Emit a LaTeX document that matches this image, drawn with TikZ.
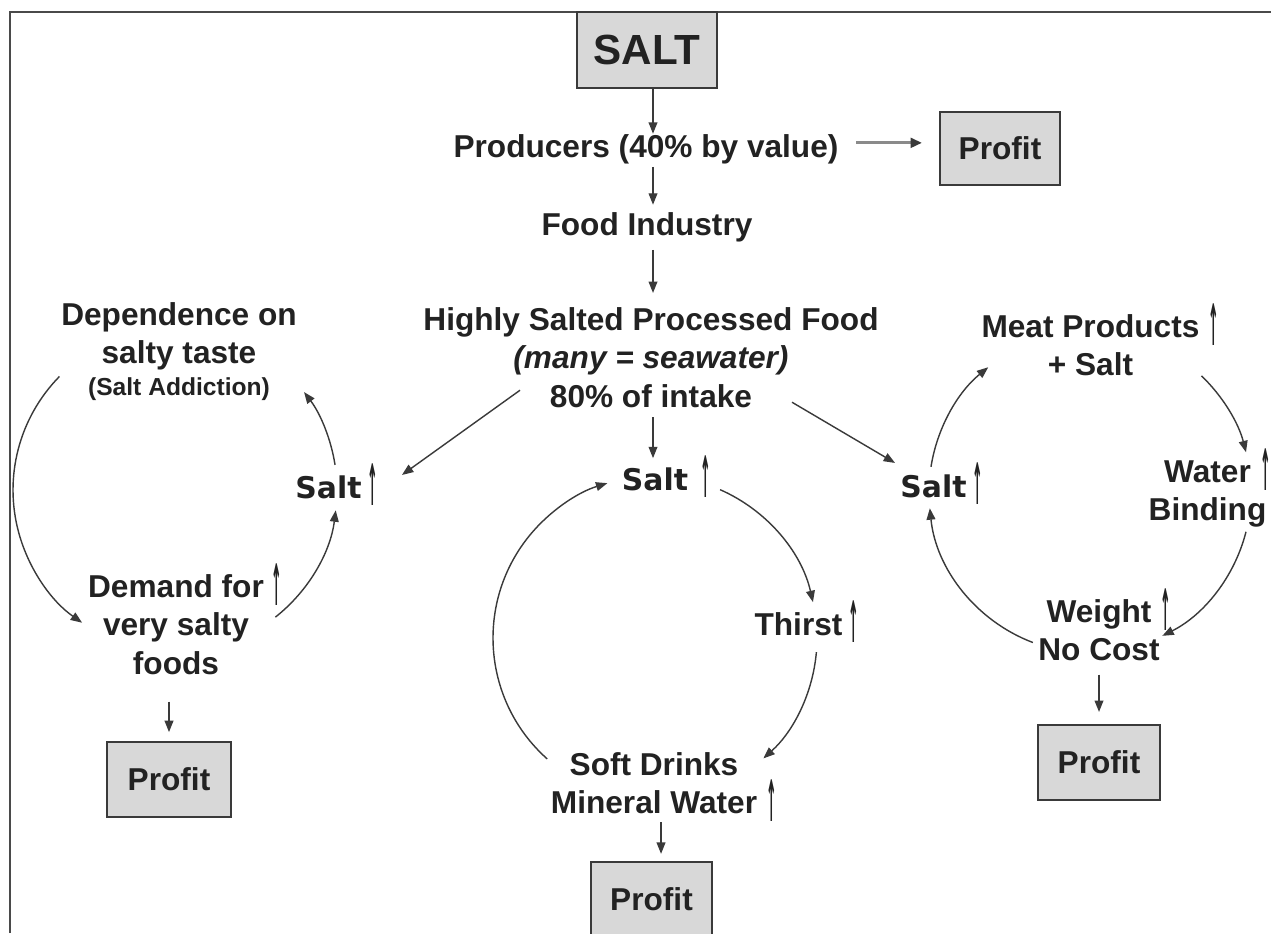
\documentclass[tikz,border=0pt]{standalone}
\usepackage{graphicx}
\usepackage{fontspec}
\setmainfont{Liberation Sans}
\newfontfamily\saltfont{DejaVu Sans}
\usetikzlibrary{arrows.meta,calc}
\definecolor{ink}{HTML}{222222}
\definecolor{linec}{HTML}{3A3A3A}
\definecolor{boxfill}{HTML}{D8D8D8}
\definecolor{framec}{HTML}{4A4A4A}
\definecolor{lightarr}{HTML}{8A8A8A}
\newcommand\upar[1][4pt]{\rlap{\kern#1\raisebox{-4.5pt}[0pt][0pt]{\resizebox*{6pt}{23.8pt}{\saltfont\bfseries\raisebox{\depth}{↑}}}}}
\begin{document}
\begin{tikzpicture}[x=0.02cm,y=0.02cm,
  txt/.style={font=\fontsize{18}{22}\selectfont\bfseries, text=ink, inner sep=0pt, align=center},
  saltlab/.style={font=\saltfont\fontsize{17}{20}\selectfont\bfseries, text=ink, inner sep=0pt},
  pbox/.style={draw=linec, line width=1.3pt, fill=boxfill, inner sep=0pt, text=ink,
     font=\fontsize{18}{22}\selectfont\bfseries},
  arr/.style={draw=linec, line width=0.8pt, -{Triangle[length=6.5pt,width=5pt]}},
  grayarr/.style={draw=lightarr, line width=1.6pt, -{Triangle[length=6.5pt,width=5.5pt,color=linec]}}
]
\fill[white] (0,0) rectangle (1271,-933);
\useasboundingbox (0,0) rectangle (1271,-933);
% frame
\draw[framec, line width=1.7pt] (10,-933) -- (10,-12) -- (1271,-12);

% top chain
\coordinate (spine) at (653,0);
\node[pbox, minimum width=2.8cm, minimum height=1.52cm, font=\fontsize{24}{28}\selectfont\bfseries] (salt) at (647,-50) {SALT};
\node[txt, anchor=base] (prod) at (646,-157) {Producers (40\% by value)};
\node[pbox, minimum width=2.4cm, minimum height=1.46cm] (profitT) at (1000,-148.5) {Profit};
\node[txt, anchor=base] (food) at (647,-235) {Food Industry};
\node[txt, anchor=north] (hsp) at (651,-307) {Highly Salted Processed Food\\{\itshape (many = seawater)}\\80\% of intake};

% left cycle
\node[txt, anchor=north] (dep) at (179,-302) {Dependence on\\salty taste\\[-4pt]{\fontsize{14}{17}\selectfont (Salt Addiction)}};
\node[saltlab, anchor=base] (saltL) at (328.5,-498) {Salt\upar[3.2pt]};
\node[txt, anchor=north] (demand) at (176,-574) {Demand for\upar[4.3pt]\\very salty\\foods};
\node[pbox, minimum width=2.48cm, minimum height=1.5cm] (profitL) at (169,-779.5) {Profit};

% centre cycle
\node[saltlab, anchor=base] (saltC) at (655,-490) {Salt\upar[7.1pt]};
\node[txt, anchor=base] (thirst) at (798.5,-635) {Thirst\upar[3.7pt]};
\node[txt, anchor=north] (soft) at (654,-752) {Soft Drinks\\Mineral Water\upar[5.4pt]};
\node[pbox, minimum width=2.42cm, minimum height=1.5cm] (profitC) at (651.5,-899.5) {Profit};

% right cycle
\node[txt, anchor=north] (meat) at (1090.5,-314) {Meat Products\upar[4.9pt]\\+ Salt};
\node[saltlab, anchor=base] (saltR) at (933.5,-497) {Salt\upar[3.2pt]};
\node[txt, anchor=north] (water) at (1207.5,-460) {Water\upar[5.6pt]\\Binding};
\node[txt, anchor=north] (weight) at (1099,-599) {Weight\upar[5.4pt]\\No Cost};
\node[pbox, minimum width=2.44cm, minimum height=1.5cm] (profitR) at (1099,-762.5) {Profit};

% straight connectors
\draw[arr] (salt.south -| spine) -- (prod.north -| spine);
\draw[arr, shorten <=1.7pt, shorten >=4pt] (prod.south -| spine) -- (food.north -| spine);
\draw[arr, shorten <=4.5pt, shorten >=8pt] (food.south -| spine) -- (hsp.north -| spine);
\draw[arr, shorten <=5pt, shorten >=5pt] (hsp.south -| spine) -- (saltC.north -| spine);
\draw[grayarr, shorten <=10pt, shorten >=9.6pt] ([yshift=3.4pt]prod.east) -- ([yshift=3.4pt]prod.east -| profitT.west);
\draw[arr] ([shift={(-131,18)}]hsp.south) -- ([shift={(40,0)}]saltL.north east);
\draw[arr] ([shift={(141,6)}]hsp.south) -- ([shift={(-5,11)}]saltR.north west);
\draw[arr, shorten <=15pt, shorten >=5pt] (demand.south -| profitL.north) -- (profitL.north);
\draw[arr, shorten <=4.5pt, shorten >=4pt] ([xshift=4pt]soft.south) -- ([xshift=4pt]soft.south |- profitC.north);
\draw[arr, shorten <=7.4pt, shorten >=6.8pt] (weight.south -| profitR.north) -- (profitR.north);

% cycle arcs
\coordinate (cL) at (175,-490);
\coordinate (cC) at (655,-638);
\coordinate (cR) at (1090,-492);
\draw[arr] ([shift={(135.5:162)}]cL) arc[start angle=135.5, end angle=235, radius=162];
\draw[arr] ([shift={(-51.7:162)}]cL) arc[start angle=-51.7, end angle=-7.2, radius=162];
\draw[arr] ([shift={(8.9:162)}]cL) arc[start angle=8.9, end angle=37.2, radius=162];

\draw[arr] ([shift={(66.3:162)}]cC) arc[start angle=66.3, end angle=12.8, radius=162];
\draw[arr] ([shift={(-5:162)}]cC) arc[start angle=-5, end angle=-48, radius=162];
\draw[arr] ([shift={(228.3:162)}]cC) arc[start angle=228.3, end angle=107.1, radius=162];

\draw[arr] ([shift={(171:161)}]cR) arc[start angle=171, end angle=129.2, radius=161];
\draw[arr] ([shift={(46.2:161)}]cR) arc[start angle=46.2, end angle=14.3, radius=161];
\draw[arr] ([shift={(-14.3:161)}]cR) arc[start angle=-14.3, end angle=-63.3, radius=161];
\draw[arr] ([shift={(249.2:161)}]cR) arc[start angle=249.2, end angle=185.8, radius=161];
\end{tikzpicture}
\end{document}
